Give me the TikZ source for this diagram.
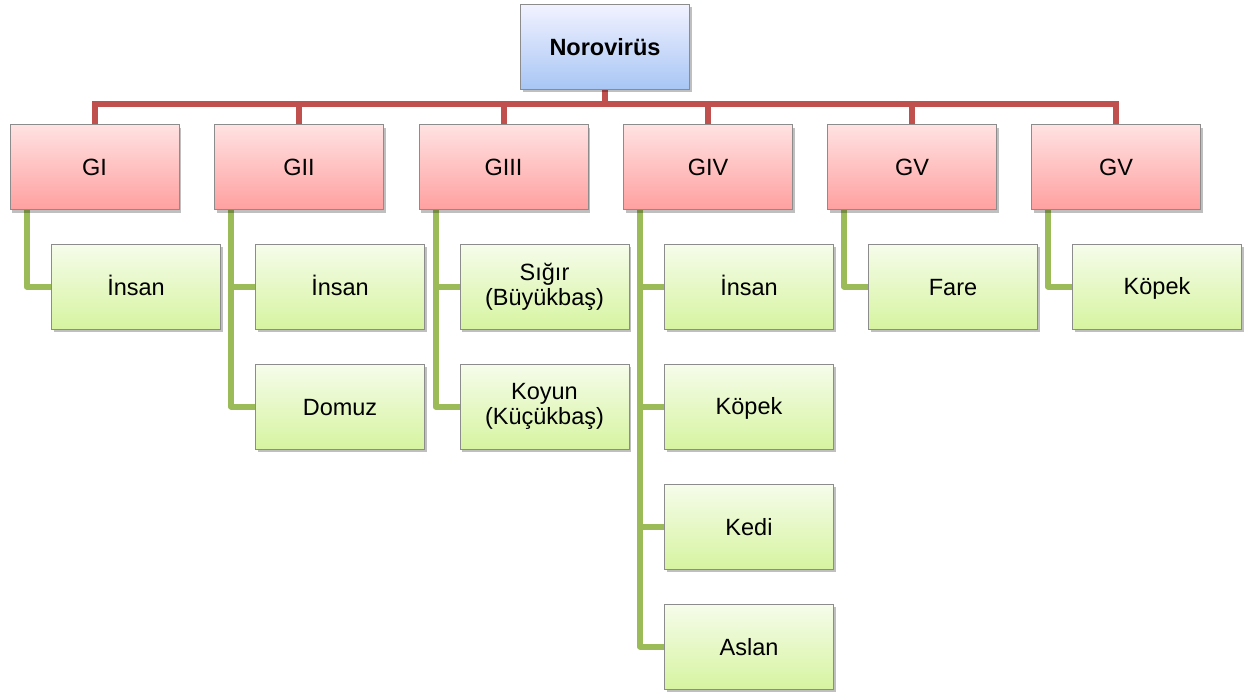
\documentclass[tikz,border=0pt]{standalone}
\usepackage{fontspec}
\setmainfont{Liberation Sans}
\usetikzlibrary{shadows,backgrounds}
\definecolor{redline}{HTML}{C0504D}
\definecolor{greenline}{HTML}{9BBB59}
\definecolor{boxborder}{HTML}{8C8C8C}
\tikzset{
  basebox/.style={draw=boxborder, line width=0.8pt, minimum width=169pt, minimum height=85pt,
    inner sep=0pt, align=center, font=\fontsize{23.5}{25}\selectfont,
    execute at begin node=\rule[-0.1em]{0pt}{0.95em},
    drop shadow={shadow xshift=2pt, shadow yshift=-3pt, opacity=0.25, fill=black}},
  rootbox/.style={basebox, top color=blue!5!white, bottom color={rgb,255:red,168;green,198;blue,245}, font=\fontsize{23.5}{25}\selectfont\bfseries},
  genobox/.style={basebox, top color={rgb,255:red,255;green,226;blue,226}, bottom color={rgb,255:red,255;green,160;blue,160}},
  hostbox/.style={basebox, top color={rgb,255:red,246;green,252;blue,235}, bottom color={rgb,255:red,214;green,244;blue,160}},
  redconn/.style={draw=redline, line width=6pt},
  greenconn/.style={draw=greenline, line width=6pt, line join=round, line cap=round},
}
\begin{document}
\begin{tikzpicture}[x=1pt,y=-1pt]
\useasboundingbox (0,0) rectangle (1244,691);
\coordinate (bar) at (0,104);
% root
\node[rootbox] (root) at (605,46.5) {Norovirüs};
% genogroups
\node[genobox] (g1) at (94.5,167) {GI};
\node[genobox] (g2) at (299,167) {GII};
\node[genobox] (g3) at (503.5,167) {GIII};
\node[genobox] (g4) at (708,167) {GIV};
\node[genobox] (g5) at (912,167) {GV};
\node[genobox] (g6) at (1116,167) {GV};
% hosts
\node[hostbox] (h11) at (136,286.5) {İnsan};
\node[hostbox] (h21) at (340,286.5) {İnsan};
\node[hostbox] (h22) at (340,406.5) {Domuz};
\node[hostbox] (h31) at (544.5,286.5) {Sığır\\(Büyükbaş)};
\node[hostbox] (h32) at (544.5,406.5) {Koyun\\(Küçükbaş)};
\node[hostbox] (h41) at (749,286.5) {İnsan};
\node[hostbox] (h42) at (749,406.5) {Köpek};
\node[hostbox] (h43) at (749,526.5) {Kedi};
\node[hostbox] (h44) at (749,646.5) {Aslan};
\node[hostbox] (h51) at (953,286.5) {Fare};
\node[hostbox] (h61) at (1157,286.5) {Köpek};
\begin{scope}[on background layer]
% red connectors
\foreach \g in {g1,g2,g3,g4,g5,g6}{
  \draw[redconn] (root.south) -- (root.south |- bar) -| (\g.north);
}
% green connectors
\draw[greenconn] ([xshift=17pt]g1.south west) |- (h11.west);
\draw[greenconn] ([xshift=17pt]g2.south west) |- (h21.west);
\draw[greenconn] ([xshift=17pt]g2.south west) |- (h22.west);
\draw[greenconn] ([xshift=17pt]g3.south west) |- (h31.west);
\draw[greenconn] ([xshift=17pt]g3.south west) |- (h32.west);
\draw[greenconn] ([xshift=17pt]g4.south west) |- (h41.west);
\draw[greenconn] ([xshift=17pt]g4.south west) |- (h42.west);
\draw[greenconn] ([xshift=17pt]g4.south west) |- (h43.west);
\draw[greenconn] ([xshift=17pt]g4.south west) |- (h44.west);
\draw[greenconn] ([xshift=17pt]g5.south west) |- (h51.west);
\draw[greenconn] ([xshift=17pt]g6.south west) |- (h61.west);
\end{scope}
\end{tikzpicture}
\end{document}
